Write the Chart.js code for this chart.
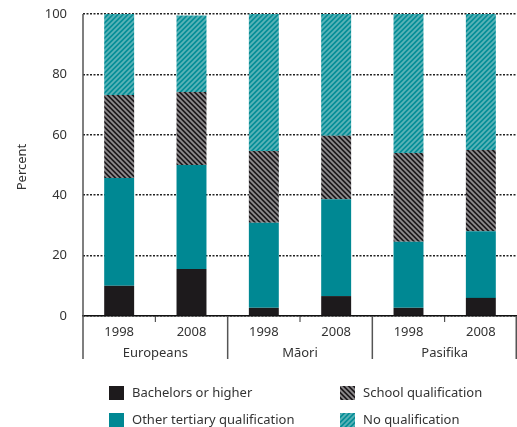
<!DOCTYPE html>
<html>
<head>
<meta charset="utf-8">
<script src="https://cdn.jsdelivr.net/npm/chart.js@4"></script>
<style>
  html, body { margin: 0; padding: 0; background: #fff; }
  #wrap { width: 517px; height: 427px; position: relative; }
</style>
</head>
<body>
<div id="wrap"><canvas id="chart"></canvas></div>
<script>
const years = ["1998", "2008", "1998", "2008", "1998", "2008"];
const groups = ["Europeans", "Māori", "Pasifika"];
const yTicks = [0, 20, 40, 60, 80, 100];

// segment heights, stacked bottom to top
const bachelors = [10, 15.6, 2.7, 6.6, 2.7, 6];
const otherTertiary = [35.7, 34.4, 28.2, 32.1, 21.9, 22.1];
const school = [27.5, 24.2, 23.7, 21, 29.4, 26.9];
const noQual = [26.8, 25.3, 45.4, 40.3, 46, 45];

const FONT = "'Noto Sans', sans-serif";
const TEXT = "#333";

// hatch fills
function stripes(base, line, dir) {
  const s = 5;
  const c = document.createElement("canvas");
  c.width = s;
  c.height = s;
  const g = c.getContext("2d");
  g.fillStyle = base;
  g.fillRect(0, 0, s, s);
  g.strokeStyle = line;
  g.lineWidth = 1.8;
  g.beginPath();
  if (dir === "/") {
    g.moveTo(-1, s + 1); g.lineTo(s + 1, -1);
    g.moveTo(-1, 1); g.lineTo(1, -1);
    g.moveTo(s - 1, s + 1); g.lineTo(s + 1, s - 1);
  } else {
    g.moveTo(-1, -1); g.lineTo(s + 1, s + 1);
    g.moveTo(-1, s - 1); g.lineTo(1, s + 1);
    g.moveTo(s - 1, -1); g.lineTo(s + 1, 1);
  }
  g.stroke();
  return g.createPattern(c, "repeat");
}

const black = "#1d1a1c";
const teal = "#008893";
const schoolFill = stripes("#1d1a1c", "#8f8d8f", "\\");
const noQualFill = stripes("#068e97", "#5cb3b8", "/");

const legendItems = [
  { label: "Bachelors or higher", fill: black, x: 109, y: 386 },
  { label: "Other tertiary qualification", fill: teal, x: 109, y: 413 },
  { label: "School qualification", fill: schoolFill, x: 340, y: 386 },
  { label: "No qualification", fill: noQualFill, x: 340, y: 413 },
];

const extras = {
  id: "extras",
  afterDraw(chart) {
    const { ctx, chartArea } = chart;
    const x = chart.scales.x;
    const bottom = chartArea.bottom;
    ctx.save();

    // left axis line running down past the labels
    ctx.strokeStyle = "#555";
    ctx.lineWidth = 1.5;
    ctx.beginPath();
    ctx.moveTo(chartArea.left, chartArea.top);
    ctx.lineTo(chartArea.left, 359);
    ctx.stroke();

    ctx.font = "13px " + FONT;
    ctx.fillStyle = TEXT;
    ctx.textAlign = "center";
    ctx.textBaseline = "middle";

    // y title
    ctx.save();
    ctx.translate(22, (chartArea.top + chartArea.bottom) / 2 + 2);
    ctx.rotate(-Math.PI / 2);
    ctx.fillText("Percent", 0, 0);
    ctx.restore();

    years.forEach((yr, i) => {
      ctx.fillText(yr, x.getPixelForValue(i), 332);
    });

    groups.forEach((gName, g) => {
      const a = x.getPixelForValue(g * 2);
      const b = x.getPixelForValue(g * 2 + 1);
      const mid = (a + b) / 2;
      ctx.fillText(gName, mid, 353);
      // tick between the two years
      ctx.strokeStyle = "#333";
      ctx.lineWidth = 1;
      ctx.beginPath();
      ctx.moveTo(mid, bottom);
      ctx.lineTo(mid, bottom + 6);
      ctx.stroke();
      // group separator on the right
      const sep = Math.min(b + (b - a) / 2, chartArea.right - 0.75);
      ctx.strokeStyle = "#555";
      ctx.lineWidth = 1.5;
      ctx.beginPath();
      ctx.moveTo(sep, bottom);
      ctx.lineTo(sep, 359);
      ctx.stroke();
    });

    // legend
    ctx.textAlign = "left";
    legendItems.forEach((it) => {
      ctx.fillStyle = it.fill;
      ctx.fillRect(it.x, it.y, 15, 14);
      ctx.fillStyle = TEXT;
      ctx.fillText(it.label, it.x + 23, it.y + 7);
    });
    ctx.restore();
  },
};

new Chart(document.getElementById("chart"), {
  type: "bar",
  data: {
    labels: years,
    datasets: [
      { label: "Bachelors or higher", data: bachelors, backgroundColor: black },
      { label: "Other tertiary qualification", data: otherTertiary, backgroundColor: teal },
      { label: "School qualification", data: school, backgroundColor: schoolFill },
      { label: "No qualification", data: noQual, backgroundColor: noQualFill },
    ],
  },
  options: {
    responsive: true,
    maintainAspectRatio: false,
    animation: false,
    devicePixelRatio: 1,
    layout: { padding: { top: 14, right: 0, left: 0, bottom: 0 } },
    datasets: { bar: { barPercentage: 0.414, categoryPercentage: 1, borderWidth: 0 } },
    plugins: { legend: { display: false }, tooltip: { enabled: false } },
    scales: {
      x: {
        stacked: true,
        grid: { display: false },
        ticks: { display: false },
        border: { display: true, color: "#111", width: 1.5 },
        afterFit(s) { s.height = 111; s.paddingLeft = 0; s.paddingRight = 0; },
      },
      y: {
        stacked: true,
        min: 0,
        max: 100,
        afterBuildTicks(s) { s.ticks = yTicks.map((v) => ({ value: v })); },
        ticks: { padding: 16, color: TEXT, font: { family: FONT, size: 13 } },
        grid: { display: true, drawTicks: false, color: "#222", lineWidth: 1.5 },
        border: { display: false, dash: [2, 1.5] },
        afterFit(s) { s.width = 83; s.paddingTop = 0; s.paddingBottom = 0; },
      },
    },
  },
  plugins: [extras],
});
</script>
</body>
</html>
